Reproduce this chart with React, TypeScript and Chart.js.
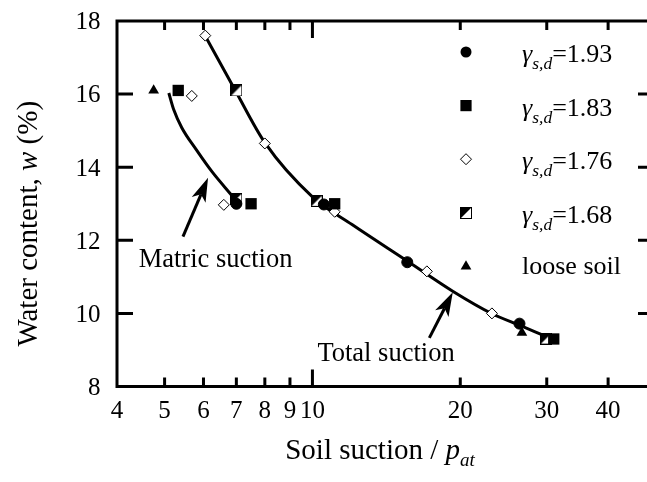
import React, { useEffect, useRef } from "react";
import { Chart, registerables } from "chart.js";

Chart.register(...registerables);

const FONT = "'Liberation Serif', 'Times New Roman', serif";

// axes
const xMin = 4;
const xMax = 48;
const yMin = 8;
const yMax = 18;
const xTickValues = [4, 5, 6, 7, 8, 9, 10, 20, 30, 40];
const xMajorTicks = [10];
const yTickValues = [8, 10, 12, 14, 16, 18];
const yInnerTicks = [10, 12, 14, 16];

// series: soil suction (x) / water content (y)
const d193X = [7.0, 10.55, 15.6, 26.4];
const d193Y = [13.0, 12.98, 11.4, 9.72];
const d183X = [5.33, 7.5, 11.1, 31.0];
const d183Y = [16.1, 13.0, 13.0, 9.3];
const d176X = [6.05, 5.68, 8.0, 6.6, 11.1, 17.1, 23.2];
const d176Y = [17.6, 15.95, 14.65, 12.97, 12.78, 11.15, 10.0];
const d168X = [7.0, 7.0, 10.2, 29.9];
const d168Y = [16.1, 13.13, 13.08, 9.31];
const looseX = [4.75, 26.7];
const looseY = [16.1, 9.47];

// fitted curves
const totalCurveX = [6.05, 6.97, 8.0, 10.0, 12.04, 15.65, 19.34, 23.22, 26.47, 29.3];
const totalCurveY = [17.59, 16.09, 14.67, 13.19, 12.43, 11.42, 10.6, 9.99, 9.67, 9.42];
const matricCurveX = [5.1, 5.22, 5.42, 5.8, 6.25, 6.86];
const matricCurveY = [16.03, 15.57, 15.08, 14.48, 13.87, 13.22];

// legend
const densityLabels = ["1.93", "1.83", "1.76", "1.68"];
const looseLabel = "loose soil";
const legendKinds = ["circle", "square", "diamond", "half", "triangle"];

// annotations: [tail, tip]
const matricArrowX = [5.45, 6.13];
const matricArrowY = [12.1, 13.71];
const totalArrowX = [17.3, 19.31];
const totalArrowY = [9.33, 10.58];
const matricText = "Matric suction";
const matricTextX = 6.35;
const matricTextY = 11.28;
const totalText = "Total suction";
const totalTextX = 14.12;
const totalTextY = 8.71;

function pts(xs: number[], ys: number[]) {
  return xs.map((x, i) => ({ x, y: ys[i] }));
}

function makeHalfSquare(): HTMLCanvasElement {
  const c = document.createElement("canvas");
  c.width = 12;
  c.height = 12;
  const g = c.getContext("2d")!;
  g.fillStyle = "#fff";
  g.fillRect(0.5, 0.5, 11, 11);
  g.fillStyle = "#000";
  g.beginPath();
  g.moveTo(0.5, 0.5);
  g.lineTo(11.5, 0.5);
  g.lineTo(0.5, 11.5);
  g.closePath();
  g.fill();
  g.strokeStyle = "#000";
  g.lineWidth = 1;
  g.strokeRect(0.5, 0.5, 11, 11);
  return c;
}

function drawMarker(ctx: CanvasRenderingContext2D, kind: string, x: number, y: number, half: HTMLCanvasElement) {
  ctx.save();
  ctx.fillStyle = "#000";
  ctx.strokeStyle = "#000";
  ctx.lineWidth = 1;
  if (kind === "circle") {
    ctx.beginPath();
    ctx.arc(x, y, 5.5, 0, Math.PI * 2);
    ctx.fill();
  } else if (kind === "square") {
    ctx.fillRect(x - 5.6, y - 5.6, 11.2, 11.2);
  } else if (kind === "diamond") {
    ctx.beginPath();
    ctx.moveTo(x, y - 5.5);
    ctx.lineTo(x + 5.5, y);
    ctx.lineTo(x, y + 5.5);
    ctx.lineTo(x - 5.5, y);
    ctx.closePath();
    ctx.fillStyle = "#fff";
    ctx.fill();
    ctx.stroke();
  } else if (kind === "half") {
    ctx.drawImage(half, Math.round(x - 6), Math.round(y - 6));
  } else if (kind === "triangle") {
    const r = 6.2;
    ctx.beginPath();
    ctx.moveTo(x, y - r);
    ctx.lineTo(x + r * 0.866, y + r / 2);
    ctx.lineTo(x - r * 0.866, y + r / 2);
    ctx.closePath();
    ctx.fill();
  }
  ctx.restore();
}

function drawArrow(ctx: CanvasRenderingContext2D, x0: number, y0: number, x1: number, y1: number) {
  const dx = x1 - x0;
  const dy = y1 - y0;
  const len = Math.hypot(dx, dy);
  const ux = dx / len;
  const uy = dy / len;
  const nx = -uy;
  const ny = ux;
  const headLen = 24;
  const headW = 7.5;
  const notch = 6;
  ctx.save();
  ctx.strokeStyle = "#000";
  ctx.fillStyle = "#000";
  ctx.lineWidth = 3;
  ctx.beginPath();
  ctx.moveTo(x0, y0);
  ctx.lineTo(x1 - ux * (headLen - notch), y1 - uy * (headLen - notch));
  ctx.stroke();
  ctx.beginPath();
  ctx.moveTo(x1, y1);
  ctx.lineTo(x1 - ux * headLen + nx * headW, y1 - uy * headLen + ny * headW);
  ctx.lineTo(x1 - ux * (headLen - notch), y1 - uy * (headLen - notch));
  ctx.lineTo(x1 - ux * headLen - nx * headW, y1 - uy * headLen - ny * headW);
  ctx.closePath();
  ctx.fill();
  ctx.restore();
}

type Part = { t: string; f: string; dy: number };

function drawParts(ctx: CanvasRenderingContext2D, parts: Part[], startX: number, baseY: number) {
  let x = startX;
  for (const p of parts) {
    ctx.font = p.f;
    ctx.fillText(p.t, x, baseY + p.dy);
    x += ctx.measureText(p.t).width;
  }
}

function partsWidth(ctx: CanvasRenderingContext2D, parts: Part[]) {
  let w = 0;
  for (const p of parts) {
    ctx.font = p.f;
    w += ctx.measureText(p.t).width;
  }
  return w;
}

export default function App() {
  const ref = useRef<HTMLCanvasElement | null>(null);

  useEffect(() => {
    if (!ref.current) return;
    const half = makeHalfSquare();

    const framePlugin = {
      id: "frameAndText",
      afterDatasetsDraw(chart: any) {
        const ctx: CanvasRenderingContext2D = chart.ctx;
        const a = chart.chartArea;
        const xs = chart.scales.x;
        const ys = chart.scales.y;
        ctx.save();
        ctx.strokeStyle = "#000";
        ctx.fillStyle = "#000";
        ctx.lineWidth = 3;
        // frame
        ctx.beginPath();
        ctx.moveTo(a.left, a.top);
        ctx.lineTo(a.right + 2, a.top);
        ctx.moveTo(a.left, a.top - 1.5);
        ctx.lineTo(a.left, a.bottom + 1.5);
        ctx.moveTo(a.left, a.bottom);
        ctx.lineTo(a.right + 2, a.bottom);
        ctx.stroke();
        // x ticks (top and bottom, inward)
        ctx.beginPath();
        for (const v of xTickValues) {
          if (v === xMin) continue;
          const px = xs.getPixelForValue(v);
          const L = xMajorTicks.includes(v) ? 17 : 9;
          ctx.moveTo(px, a.bottom);
          ctx.lineTo(px, a.bottom - L);
          ctx.moveTo(px, a.top);
          ctx.lineTo(px, a.top + L);
        }
        // y ticks
        for (const v of yInnerTicks) {
          const py = ys.getPixelForValue(v);
          ctx.moveTo(a.left, py);
          ctx.lineTo(a.left + 16, py);
          ctx.moveTo(a.right - 9, py);
          ctx.lineTo(a.right + 2, py);
        }
        ctx.stroke();

        // tick labels
        ctx.textBaseline = "alphabetic";
        ctx.font = `25px ${FONT}`;
        ctx.textAlign = "center";
        for (const v of xTickValues) {
          ctx.fillText(String(v), xs.getPixelForValue(v), a.bottom + 31.5);
        }
        ctx.textAlign = "right";
        for (const v of yTickValues) {
          ctx.fillText(String(v), a.left - 16.5, ys.getPixelForValue(v) + 8.3);
        }

        // arrows
        drawArrow(
          ctx,
          xs.getPixelForValue(matricArrowX[0]),
          ys.getPixelForValue(matricArrowY[0]),
          xs.getPixelForValue(matricArrowX[1]),
          ys.getPixelForValue(matricArrowY[1])
        );
        drawArrow(
          ctx,
          xs.getPixelForValue(totalArrowX[0]),
          ys.getPixelForValue(totalArrowY[0]),
          xs.getPixelForValue(totalArrowX[1]),
          ys.getPixelForValue(totalArrowY[1])
        );

        // annotation texts
        ctx.textAlign = "center";
        ctx.font = `26.5px ${FONT}`;
        ctx.fillText(matricText, xs.getPixelForValue(matricTextX), ys.getPixelForValue(matricTextY));
        ctx.fillText(totalText, xs.getPixelForValue(totalTextX), ys.getPixelForValue(totalTextY));

        // legend
        ctx.textAlign = "left";
        const mx = a.right - 181;
        const tx = a.right - 125;
        for (let i = 0; i < legendKinds.length; i++) {
          const ry = a.top + 31 + i * 53.6;
          drawMarker(ctx, legendKinds[i], mx, ry, half);
          if (i < densityLabels.length) {
            drawParts(
              ctx,
              [
                { t: "\u03b3", f: `italic 26px ${FONT}`, dy: 0 },
                { t: "s,d", f: `italic 17.5px ${FONT}`, dy: 7 },
                { t: "=" + densityLabels[i], f: `26px ${FONT}`, dy: 0 },
              ],
              tx,
              ry + 10
            );
          } else {
            ctx.font = `26px ${FONT}`;
            ctx.fillText(looseLabel, tx, ry + 8);
          }
        }

        // x title
        const xParts: Part[] = [
          { t: "Soil suction / ", f: `29px ${FONT}`, dy: 0 },
          { t: "p", f: `italic 29px ${FONT}`, dy: 0 },
          { t: "at", f: `italic 19px ${FONT}`, dy: 7 },
        ];
        const xw = partsWidth(ctx, xParts);
        drawParts(ctx, xParts, (a.left + a.right) / 2 - 2 - xw / 2, a.bottom + 72);

        // y title
        const yParts: Part[] = [
          { t: "Water content, ", f: `29px ${FONT}`, dy: 0 },
          { t: "w", f: `italic 29px ${FONT}`, dy: 0 },
          { t: " (%)", f: `29px ${FONT}`, dy: 0 },
        ];
        const yw = partsWidth(ctx, yParts);
        ctx.translate(37, (a.top + a.bottom) / 2 + 20);
        ctx.rotate(-Math.PI / 2);
        drawParts(ctx, yParts, -yw / 2, 0);
        ctx.restore();
      },
    };

    const pointDs = (label: string, data: any, style: any, radius: number, bg: string, bw: number) => ({
      type: "scatter" as const,
      label,
      data,
      pointStyle: style,
      pointRadius: radius,
      pointHoverRadius: radius,
      backgroundColor: bg,
      borderColor: "#000",
      borderWidth: bw,
      showLine: false,
      order: 0,
      clip: false as any,
    });

    const lineDs = (label: string, data: any) => ({
      type: "scatter" as const,
      label,
      data,
      showLine: true,
      pointRadius: 0,
      borderColor: "#000",
      borderWidth: 3,
      cubicInterpolationMode: "monotone" as const,
      fill: false,
      order: 5,
    });

    const chart = new Chart(ref.current, {
      type: "scatter",
      data: {
        datasets: [
          pointDs("1.93", pts(d193X, d193Y), "circle", 5.5, "#000", 1),
          pointDs("1.83", pts(d183X, d183Y), "rect", 8, "#000", 0),
          pointDs("1.76", pts(d176X, d176Y), "rectRot", 5.5, "#fff", 1),
          pointDs("1.68", pts(d168X, d168Y), half, 6, "#000", 0),
          pointDs("loose", pts(looseX, looseY), "triangle", 6.2, "#000", 0),
          lineDs("total", pts(totalCurveX, totalCurveY)),
          lineDs("matric", pts(matricCurveX, matricCurveY)),
        ] as any,
      },
      options: {
        animation: false,
        responsive: false,
        devicePixelRatio: 1,
        layout: { autoPadding: false, padding: { top: 21, left: 0, right: 0, bottom: 0 } },
        plugins: { legend: { display: false }, tooltip: { enabled: false } },
        scales: {
          x: {
            type: "logarithmic",
            min: xMin,
            max: xMax,
            grid: { display: false, drawTicks: false },
            border: { display: false },
            afterBuildTicks: (s: any) => {
              s.ticks = xTickValues.map((v) => ({ value: v, major: xMajorTicks.includes(v) }));
            },
            afterFit: (s: any) => {
              s.height = 95.5;
            },
            ticks: { display: false },
          },
          y: {
            type: "linear",
            min: yMin,
            max: yMax,
            grid: { display: false, drawTicks: false },
            border: { display: false },
            afterBuildTicks: (s: any) => {
              s.ticks = yTickValues.map((v) => ({ value: v }));
            },
            afterFit: (s: any) => {
              s.width = 117;
            },
            ticks: { display: false },
          },
        },
      },
      plugins: [framePlugin],
    });

    return () => chart.destroy();
  }, []);

  return (
    <canvas
      ref={ref}
      width={647}
      height={482}
      style={{ display: "block", position: "absolute", left: 0, top: 0, background: "#fff" }}
    />
  );
}
